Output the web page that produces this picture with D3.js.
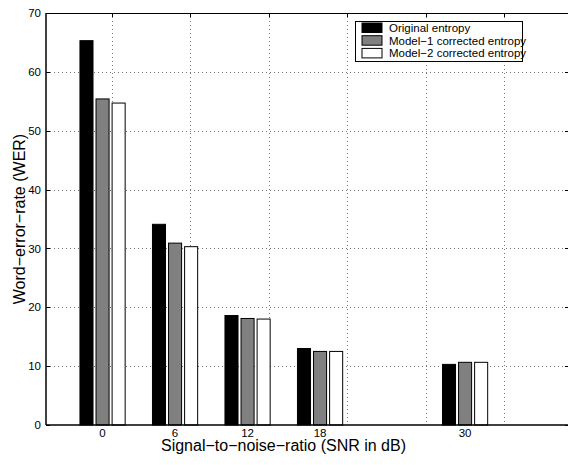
<!DOCTYPE html>
<html>
<head>
<meta charset="utf-8">
<script src="https://cdn.jsdelivr.net/npm/d3@7/dist/d3.min.js"></script>
<style>
  body { margin: 0; background: #fff; }
  svg { display: block; font-family: "Liberation Sans", Arial, sans-serif; }
</style>
</head>
<body>
<svg width="568" height="465"></svg>
<script>
// data
var snr = [0, 6, 12, 18, 30];
var original = [65.3, 34.1, 18.6, 13.0, 10.3];
var model1 = [55.4, 30.9, 18.1, 12.5, 10.65];
var model2 = [54.7, 30.3, 18.0, 12.5, 10.65];
var seriesNames = ["Original entropy", "Model\u22121 corrected entropy", "Model\u22122 corrected entropy"];
var seriesFill = ["#000000", "#808080", "#ffffff"];
var yTicks = [0, 10, 20, 30, 40, 50, 60, 70];
// grid / top-axis ticks come from a second axis that doesn't line up with the bars
var gridX = [0.75, 7.25, 13.75, 20.25, 26.75, 33.25];

var svg = d3.select("svg");
// note: "top" is taken by window.top, so plot edges get their own names
var plotL = 46, plotR = 569, plotT = 13, plotB = 425;

var x = d3.scaleLinear().domain([-4.68, 38.6]).range([plotL, plotR]);
var y = d3.scaleLinear().domain([0, 70]).range([plotB, plotT]);

var barOffset = 1.33, barWidth = 1.08;

function py(d) { return Math.round(y(d)) + 0.5; }
function px(d) { return Math.round(x(d)) + 0.5; }

// grid lines
var grid = svg.append("g").attr("class", "grid")
  .attr("stroke", "#777").attr("stroke-width", 1).attr("stroke-dasharray", "1,3");

grid.selectAll("line.h")
  .data(yTicks.filter(function (d) { return d > 0 && d < 70; }))
  .enter().append("line")
  .attr("x1", plotL).attr("x2", plotR)
  .attr("y1", py).attr("y2", py);

grid.selectAll("line.v")
  .data(gridX)
  .enter().append("line")
  .attr("y1", plotT).attr("y2", plotB)
  .attr("x1", px).attr("x2", px);

// bars
var series = [original, model1, model2];
series.forEach(function (vals, i) {
  svg.append("g")
    .selectAll("rect")
    .data(vals)
    .enter().append("rect")
    .attr("x", function (d, j) { return x(snr[j] + (i - 1) * barOffset - barWidth / 2); })
    .attr("width", x(barWidth) - x(0))
    .attr("y", function (d) { return y(d); })
    .attr("height", function (d) { return y(0) - y(d); })
    .attr("fill", seriesFill[i])
    .attr("stroke", "#000")
    .attr("stroke-width", 1);
});

// frame
var frame = svg.append("g").attr("stroke", "#000").attr("fill", "none");
frame.append("line").attr("x1", plotL).attr("x2", plotR).attr("y1", plotT + 0.5).attr("y2", plotT + 0.5).attr("stroke-width", 1);
frame.append("line").attr("x1", plotL).attr("x2", plotR).attr("y1", plotB).attr("y2", plotB).attr("stroke-width", 1.5);
frame.append("line").attr("x1", plotL).attr("x2", plotL).attr("y1", plotT).attr("y2", plotB).attr("stroke-width", 1.5);

// inward ticks on left, right and top
frame.selectAll("line.yl")
  .data(yTicks)
  .enter().append("line")
  .attr("x1", plotL).attr("x2", plotL + 4)
  .attr("y1", py).attr("y2", py);
frame.selectAll("line.yr")
  .data(yTicks)
  .enter().append("line")
  .attr("x1", plotR - 4).attr("x2", plotR)
  .attr("y1", py).attr("y2", py);
frame.selectAll("line.xt")
  .data(gridX)
  .enter().append("line")
  .attr("y1", plotT).attr("y2", plotT + 4)
  .attr("x1", px).attr("x2", px);

// tick labels
svg.append("g").selectAll("text")
  .data(yTicks)
  .enter().append("text")
  .attr("x", plotL - 5)
  .attr("y", function (d) { return y(d); })
  .attr("dy", "0.36em")
  .attr("text-anchor", "end")
  .attr("font-size", "11.5px")
  .text(function (d) { return d; });

svg.append("g").selectAll("text")
  .data(snr)
  .enter().append("text")
  .attr("x", function (d) { return x(d); })
  .attr("y", plotB + 12)
  .attr("text-anchor", "middle")
  .attr("font-size", "11.5px")
  .text(function (d) { return d; });

// axis titles
svg.append("text")
  .attr("x", 283.5).attr("y", 451)
  .attr("text-anchor", "middle")
  .attr("font-size", "16px")
  .text("Signal\u2212to\u2212noise\u2212ratio (SNR in dB)");

svg.append("text")
  .attr("transform", "translate(25," + ((plotT + plotB) / 2) + ") rotate(-90)")
  .attr("text-anchor", "middle")
  .attr("font-size", "16px")
  .text("Word\u2212error\u2212rate (WER)");

// legend
var legend = svg.append("g").attr("transform", "translate(355,21)");
legend.append("rect")
  .attr("x", 0.5).attr("y", 0.5).attr("width", 167).attr("height", 40)
  .attr("fill", "#fff").attr("stroke", "#000").attr("stroke-width", 1);
var item = legend.selectAll("g.item")
  .data(seriesNames)
  .enter().append("g")
  .attr("transform", function (d, i) { return "translate(0," + (i * 12.7) + ")"; });
item.append("rect")
  .attr("x", 7).attr("y", 2).attr("width", 20).attr("height", 9.5)
  .attr("fill", function (d, i) { return seriesFill[i]; })
  .attr("stroke", "#000").attr("stroke-width", 1);
item.append("text")
  .attr("x", 34).attr("y", 11)
  .attr("font-size", "11.5px")
  .text(function (d) { return d; });
</script>
</body>
</html>
